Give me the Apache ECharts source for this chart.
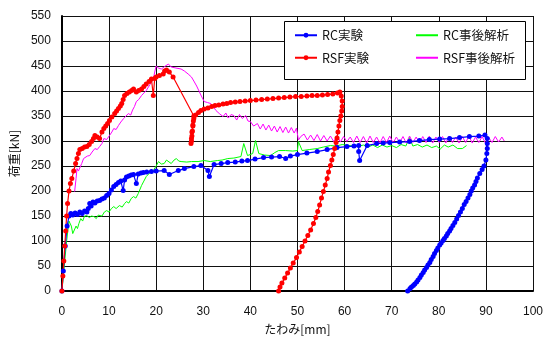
<!DOCTYPE html>
<html><head><meta charset="utf-8">
<script src="https://cdn.jsdelivr.net/npm/echarts@6/dist/echarts.min.js"></script>
<style>html,body{margin:0;padding:0;background:#fff}#c{width:546px;height:340px}</style>
</head><body><div id="c"></div>
<script>
const xTicks = [0,10,20,30,40,50,60,70,80,90,100];
const yTicks = [0,50,100,150,200,250,300,350,400,450,500,550];
const seriesNames = ['RC実験','RC事後解析','RSF実験','RSF事後解析'];

// RC experiment: [deflection mm, load kN]
const rcExp = [
[0,0],[0.3,40],[0.7,90],[1.1,130],[1.5,150],[1.9,155],[2.3,152],[2.8,156],[3.3,153],[3.8,158],[4.3,155],[4.8,160],[5.3,158],[5.6,165],[5.9,175],[6.2,170],[6.6,178],[7.0,176],[7.5,180],[8.0,181],[8.5,184],[9.0,186],[9.5,191],[10.0,195],[10.5,202],[11.0,209],[11.5,213],[12.0,217],[12.5,220],[13.0,201],[13.3,222],[13.7,228],[14.2,230],[14.7,232],[15.2,233],[15.8,215],[16.2,234],[16.8,236],[17.3,237],[18.0,238],[19.0,239],[20.0,240],[21.7,241],[22.8,233],[24.7,241],[26.0,245],[28.0,249],[29.5,251],[31.0,241],[31.3,229],[32.3,253],[33.8,255],[35.2,257],[36.8,258],[38.2,260],[39.4,261],[41.0,264],[42.8,267],[44.5,268],[46.2,269],[47.5,265],[48.5,270],[50.0,273],[52.0,276],[54.2,279],[56.3,283],[58.4,287],[60.5,289],[62.0,290],[63.0,291],[63.0,279],[63.2,261],[64.8,291],[66.8,295],[68.2,296],[69.6,297],[71.7,298],[73.8,299],[75.9,301],[78.0,303],[80.2,304],[82.3,305],[84.4,307],[86.5,309],[88.5,310],[89.8,312],[90.3,305],[90.3,295],[90.3,285],[90.2,275],[90.0,262],[89.6,250],[89.2,243],[88.7,235],[88.2,226],[87.9,219],[87.6,212],[87.2,206],[86.9,200],[86.6,193],[86.2,186],[85.8,179],[85.4,173],[85.0,165],[84.6,158],[84.2,151],[83.8,144],[83.4,137],[83.0,131],[82.6,125],[82.3,120],[81.9,115],[81.6,110],[81.2,105],[80.9,101],[80.5,96],[80.2,92],[79.8,86],[79.5,81],[79.1,75],[78.8,69],[78.4,63],[78.1,57],[77.7,52],[77.4,47],[77.0,42],[76.7,37],[76.3,32],[76.0,27],[75.6,22],[75.3,18],[74.9,14],[74.6,11],[74.2,8],[73.9,5],[73.4,0]
];

// RC post-analysis
const rcAna = [
[0,0],[0.5,50],[1.0,100],[1.5,140],[2.0,130],[2.3,115],[2.7,118],[3.0,130],[3.3,125],[3.6,135],[4.0,145],[4.4,140],[4.8,150],[5.3,151],[5.8,147],[6.3,150],[6.8,149],[7.3,145],[7.7,152],[8.0,155],[8.5,150],[9.0,158],[9.5,161],[10.0,158],[10.5,165],[11.0,169],[11.5,165],[12.2,171],[12.8,168],[13.3,175],[13.7,179],[14.2,176],[14.7,185],[15.2,189],[15.7,186],[16.2,195],[16.9,211],[17.4,220],[17.9,229],[18.5,235],[19.4,241],[20.0,250],[20.5,259],[21.1,254],[21.7,255],[22.2,262],[22.6,261],[23.2,255],[23.8,262],[24.3,265],[24.8,260],[25.3,259],[26.5,258],[27.5,259],[28.9,259],[30.2,261],[31.5,259],[33.0,261],[34.0,262],[35.2,265],[36.5,266],[38.0,269],[38.6,295],[39.4,271],[40.5,275],[41.1,301],[41.8,275],[43.0,272],[44.3,271],[45.2,277],[46.0,281],[47.5,281],[49.0,280],[50.0,281],[50.2,299],[51.0,281],[52.5,283],[54.2,285],[55.5,288],[57.0,291],[58.2,290],[59.5,293],[61.2,291],[62.7,289],[64.0,292],[65.0,288],[66.0,292],[67.0,287],[68.0,292],[69.0,288],[70.0,291],[71.0,287],[72.0,293],[73.0,290],[73.8,307],[74.5,290],[75.5,293],[76.5,288],[77.5,292],[78.5,287],[79.5,290],[80.3,284],[81.2,292],[82.0,288],[83.0,292],[84.0,285],[85.0,285],[85.9,291]
];

// RSF experiment
const rsfExp = [
[0,0],[0.2,30],[0.4,60],[0.6,90],[0.8,120],[1.0,150],[1.2,175],[1.5,200],[1.8,215],[2.1,225],[2.5,240],[2.9,255],[3.2,265],[3.5,275],[3.8,283],[4.3,285],[4.8,288],[5.3,289],[5.8,293],[6.3,299],[6.7,305],[7.0,311],[7.5,308],[8.0,305],[8.5,318],[8.9,325],[9.3,330],[9.7,335],[10.1,341],[10.6,348],[11.2,355],[11.6,360],[12.0,365],[12.4,370],[12.7,375],[13.0,383],[13.3,391],[13.8,395],[14.3,398],[14.8,401],[15.2,404],[15.8,398],[16.3,401],[16.9,404],[17.4,409],[17.9,414],[18.5,419],[19.0,424],[19.4,391],[19.7,425],[20.0,428],[20.7,431],[21.5,434],[21.8,440],[22.2,442],[22.8,438],[23.6,428],[28.0,350],[27.9,340],[27.8,330],[27.7,320],[27.6,310],[27.5,300],[27.4,295],[27.5,305],[27.6,318],[27.8,332],[28.0,345],[28.4,352],[29.0,357],[29.5,361],[30.2,364],[31.0,366],[31.8,369],[32.5,371],[33.3,372],[34.2,374],[35.0,375],[35.8,377],[36.8,378],[37.8,379],[38.9,380],[40.0,381],[41.2,382],[42.4,383],[43.6,384],[44.8,385],[46.0,386],[47.2,387],[48.4,388],[49.6,389],[50.8,389],[52.0,390],[53.1,391],[54.2,391],[55.3,392],[56.4,393],[57.5,394],[58.5,396],[59.0,398],[59.3,390],[59.5,380],[59.5,369],[59.4,360],[59.2,350],[59.0,341],[58.8,330],[58.6,318],[58.4,306],[58.2,297],[57.9,285],[57.6,273],[57.3,262],[57.0,251],[56.6,238],[56.3,225],[55.9,212],[55.5,199],[55.1,186],[54.7,172],[54.3,159],[53.9,147],[53.4,135],[52.8,122],[52.2,111],[51.6,100],[51.0,89],[50.4,78],[49.8,67],[49.1,56],[48.5,46],[47.9,36],[47.3,26],[46.7,16],[46.3,8],[46.0,0]
];

// RSF post-analysis
const rsfAna = [
[2.7,199],[3.0,225],[3.2,245],[3.5,240],[3.8,239],[4.2,255],[4.6,265],[5.0,262],[5.4,270],[5.9,271],[6.4,278],[7.0,285],[7.5,283],[8.0,289],[8.5,295],[8.9,305],[9.5,303],[10.1,311],[10.6,318],[11.0,325],[11.5,323],[12.0,331],[12.5,338],[13.1,345],[13.6,350],[14.1,355],[14.6,352],[15.0,362],[15.4,369],[15.8,379],[16.3,383],[16.9,391],[17.4,396],[17.9,401],[18.5,410],[19.0,418],[19.4,424],[19.7,438],[20.0,450],[20.5,446],[21.1,444],[21.8,449],[22.6,454],[23.2,448],[24.2,446],[25.3,444],[26.0,440],[26.8,434],[27.5,428],[28.0,420],[28.6,410],[29.1,400],[29.6,390],[30.2,379],[30.9,377],[31.6,375],[32.2,368],[32.7,361],[33.4,355],[34.2,349],[34.8,356],[35.3,346],[35.9,353],[36.5,351],[37.1,342],[37.7,353],[38.3,345],[39.0,351],[39.5,340],[40.0,339],[40.7,330],[41.5,335],[42.1,324],[42.7,334],[43.3,322],[43.9,332],[44.5,320],[45.1,330],[45.7,318],[46.3,329],[46.9,317],[47.5,328],[48.1,316],[48.7,327],[49.3,316],[49.8,326],[50.2,302],[50.7,309],[51.4,314],[52.1,302],[52.8,312],[53.5,301],[54.2,313],[54.9,300],[55.6,311],[56.3,300],[57.0,310],[57.7,299],[58.4,311],[59.1,298],[59.8,309],[60.5,299],[61.2,308],[61.9,297],[62.6,310],[63.3,297],[64.0,309],[64.7,296],[65.4,310],[66.1,297],[66.8,308],[67.5,296],[68.2,309],[68.9,297],[69.6,310],[70.3,296],[71.0,308],[71.7,297],[72.4,309],[73.1,296],[73.8,310],[74.5,297],[75.2,308],[75.9,296],[76.6,309],[77.3,297],[78.0,310],[78.7,296],[79.4,308],[80.1,297],[80.8,309],[81.5,296],[82.2,310],[82.9,297],[83.6,308],[84.3,296],[85.0,309],[85.7,297],[86.4,310],[87.1,296],[87.8,308],[88.5,297],[89.2,309],[89.9,296],[90.6,307],[91.3,297],[92.0,309],[92.7,298],[93.4,308],[93.9,300]
];

const chart = echarts.init(document.getElementById('c'), null, {renderer:'canvas'});
const axisFont = {fontFamily:'Liberation Sans, Arial, sans-serif', fontSize:12, color:'#111'};
const jpFont = 'Noto Sans CJK JP, sans-serif';
const legendCommon = {orient:'vertical', top:29, padding:0, itemGap:10, itemWidth:22, itemHeight:6, z:110,
  textStyle:{fontFamily:jpFont, fontSize:12.5, color:'#111'}};
chart.setOption({
  animation:false,
  backgroundColor:'#fff',
  grid:{left:60, right:12, top:16, bottom:46, containLabel:false},
  xAxis:{type:'value', min:xTicks[0], max:xTicks[xTicks.length-1], interval:10,
    name:'たわみ[mm]', nameLocation:'middle', nameGap:28,
    nameTextStyle:{fontFamily:jpFont, fontSize:12, color:'#111'},
    axisLine:{lineStyle:{color:'#000', width:2}},
    axisTick:{show:false},
    axisLabel:Object.assign({margin:15}, axisFont),
    splitLine:{show:true, lineStyle:{color:'#111', width:1}}},
  yAxis:{type:'value', min:yTicks[0], max:yTicks[yTicks.length-1], interval:50,
    name:'荷重[kN]', nameLocation:'middle', nameGap:38, nameRotate:90,
    nameTextStyle:{fontFamily:jpFont, fontSize:12, color:'#111'},
    axisLine:{show:true, lineStyle:{color:'#000', width:2}},
    axisTick:{show:false},
    axisLabel:Object.assign({margin:11}, axisFont),
    splitLine:{show:true, lineStyle:{color:'#111', width:1}}},
  graphic:[{type:'rect', shape:{x:284.5, y:21.5, width:241, height:58},
    style:{fill:'#fff', stroke:'#000', lineWidth:1}, z:100}],
  legend:[
    Object.assign({left:294, data:[seriesNames[0], seriesNames[2]]}, legendCommon),
    Object.assign({left:415, data:[
      {name:seriesNames[1], itemStyle:{opacity:0}},
      {name:seriesNames[3], itemStyle:{opacity:0}}]}, legendCommon)
  ],
  series:[
    {name:seriesNames[1], type:'line', data:rcAna, showSymbol:false, symbol:'none',
     lineStyle:{color:'#00ff00', width:1}, itemStyle:{color:'#00ff00'}},
    {name:seriesNames[3], type:'line', data:rsfAna, showSymbol:false, symbol:'none',
     lineStyle:{color:'#ff00ff', width:1}, itemStyle:{color:'#ff00ff'}},
    {name:seriesNames[0], type:'line', data:rcExp, symbol:'circle', symbolSize:5,
     lineStyle:{color:'#0000ff', width:1.2}, itemStyle:{color:'#0000ff'}},
    {name:seriesNames[2], type:'line', data:rsfExp, symbol:'circle', symbolSize:5,
     lineStyle:{color:'#ff0000', width:1.2}, itemStyle:{color:'#ff0000'}}
  ]
});
</script></body></html>
